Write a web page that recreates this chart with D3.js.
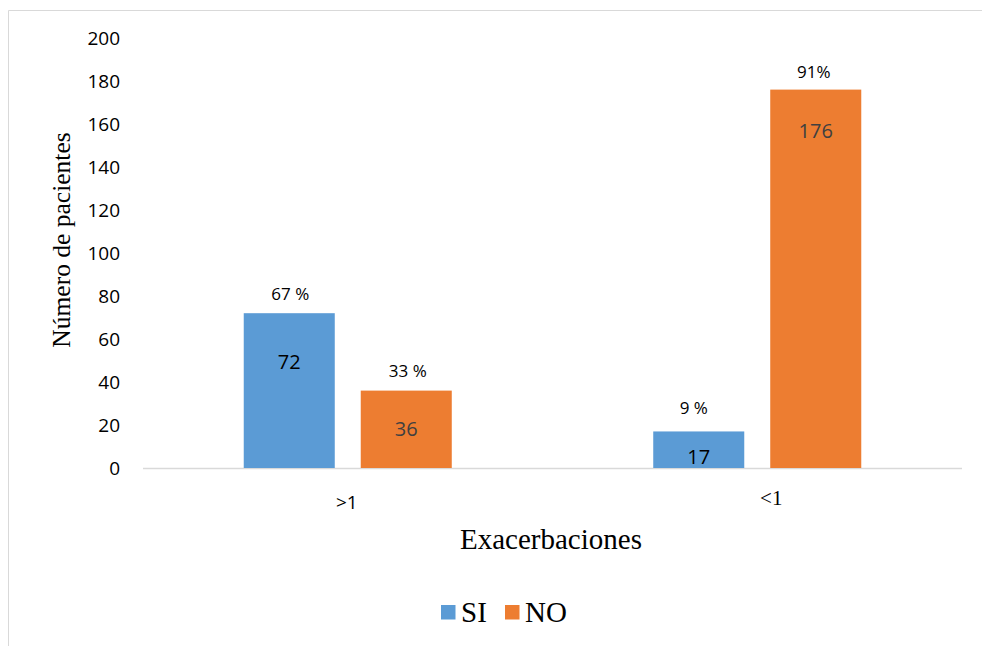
<!DOCTYPE html>
<html>
<head>
<meta charset="utf-8">
<script src="https://cdn.jsdelivr.net/npm/d3@7"></script>
<style>
  html, body { margin: 0; padding: 0; background: #fff; }
  svg { display: block; }
</style>
</head>
<body>
<svg id="chart" width="983" height="646"></svg>
<script>
// Exacerbaciones por grupo, pacientes SI / NO
const categories = [">1", "<1"];
const seriesNames = ["SI", "NO"];
const siValues = [72, 17];
const noValues = [36, 176];
const siPercent = ["67 %", "9 %"];
const noPercent = ["33 %", "91%"];
const yTicks = [0, 20, 40, 60, 80, 100, 120, 140, 160, 180, 200];

const colors = { SI: "#5B9BD5", NO: "#ED7D31" };
const sans = "'Open Sans', 'Liberation Sans', sans-serif";
const serif = "'Liberation Serif', 'Times New Roman', serif";

const svg = d3.select("#chart");

// outer frame (top and left edges visible)
svg.append("line").attr("x1", 8.5).attr("x2", 982).attr("y1", 10.5).attr("y2", 10.5)
  .attr("stroke", "#d9d9d9").attr("stroke-width", 1);
svg.append("line").attr("x1", 8.5).attr("x2", 8.5).attr("y1", 10.5).attr("y2", 646)
  .attr("stroke", "#d9d9d9").attr("stroke-width", 1);

const plot = { left: 143, right: 962, top: 38, bottom: 468 };

const x0 = d3.scaleBand().domain(categories).range([plot.left, plot.right]).padding(0);
const x1 = d3.scaleBand().domain(seriesNames).range([0, x0.bandwidth()])
  .paddingInner(0.222).paddingOuter(0.861);
const y = d3.scaleLinear().domain([0, 200]).range([plot.bottom, plot.top]);

// y axis tick labels (no axis line)
const yAxis = d3.axisLeft(y).tickValues(yTicks).tickSize(0).tickPadding(0);
const yg = svg.append("g").attr("transform", `translate(${plot.left - 23},0)`).call(yAxis);
yg.select(".domain").remove();
yg.selectAll("text").attr("font-family", sans).attr("font-size", 19).attr("fill", "#000")
  .attr("dy", "0.36em");

// baseline
svg.append("line").attr("x1", plot.left).attr("x2", plot.right)
  .attr("y1", plot.bottom + 0.5).attr("y2", plot.bottom + 0.5)
  .attr("stroke", "#d9d9d9").attr("stroke-width", 1.5);

const rows = categories.map((c, i) => ({
  cat: c,
  bars: [
    { key: "SI", value: siValues[i], pct: siPercent[i] },
    { key: "NO", value: noValues[i], pct: noPercent[i] }
  ]
}));

const groups = svg.append("g").selectAll("g").data(rows).join("g")
  .attr("transform", d => `translate(${x0(d.cat)},0)`);

groups.selectAll("rect").data(d => d.bars).join("rect")
  .attr("x", d => x1(d.key))
  .attr("width", x1.bandwidth())
  .attr("y", d => y(d.value))
  .attr("height", d => y(0) - y(d.value))
  .attr("fill", d => colors[d.key]);

// count labels inside bars
const countOffset = { "72": 49, "36": 38, "17": 25, "176": 41.5 };
const countColor = { "72": "#000", "36": "#404040", "17": "#000", "176": "#404040" };
groups.selectAll("text.count").data(d => d.bars).join("text")
  .attr("class", "count")
  .attr("x", d => x1(d.key) + x1.bandwidth() / 2)
  .attr("y", d => y(d.value) + countOffset[d.value])
  .attr("text-anchor", "middle").attr("dy", "0.36em")
  .attr("font-family", sans).attr("font-size", 20)
  .attr("fill", d => countColor[d.value])
  .text(d => d.value);

// percentage labels above bars
const pctOffset = { "72": 19.5, "36": 19.5, "17": 24, "176": 17.5 };
const pctShift = { "72": 1, "36": 1.5, "17": -5, "176": -2 };
groups.selectAll("text.pct").data(d => d.bars).join("text")
  .attr("class", "pct")
  .attr("x", d => x1(d.key) + x1.bandwidth() / 2 + pctShift[d.value])
  .attr("y", d => y(d.value) - pctOffset[d.value])
  .attr("text-anchor", "middle").attr("dy", "0.36em")
  .attr("font-family", sans).attr("font-size", 17)
  .attr("fill", "#000")
  .text(d => d.pct);

// category labels
svg.append("text").attr("x", x0(">1") + x0.bandwidth() / 2 - 1).attr("y", 502)
  .attr("text-anchor", "middle").attr("dy", "0.36em")
  .attr("font-family", sans).attr("font-size", 19).text(categories[0]);
svg.append("text").attr("x", x0("<1") + x0.bandwidth() / 2 + 14).attr("y", 497)
  .attr("text-anchor", "middle").attr("dy", "0.36em")
  .attr("font-family", serif).attr("font-size", 21).text(categories[1]);

// axis titles
svg.append("text").attr("x", 551).attr("y", 549)
  .attr("text-anchor", "middle")
  .attr("font-family", serif).attr("font-size", 29).text("Exacerbaciones");
svg.append("text")
  .attr("transform", "translate(70,240) rotate(-90)")
  .attr("text-anchor", "middle")
  .attr("font-family", serif).attr("font-size", 25.5).text("Número de pacientes");

// legend
const legend = svg.append("g");
const legendItems = [
  { key: "SI", x: 441 },
  { key: "NO", x: 505 }
];
legend.selectAll("rect").data(legendItems).join("rect")
  .attr("x", d => d.x).attr("y", 605).attr("width", 14.5).attr("height", 14.5)
  .attr("fill", d => colors[d.key]);
legend.selectAll("text").data(legendItems).join("text")
  .attr("x", d => d.x + 20).attr("y", 621.5)
  .attr("font-family", serif).attr("font-size", 29).attr("fill", "#000")
  .text(d => d.key);
</script>
</body>
</html>
